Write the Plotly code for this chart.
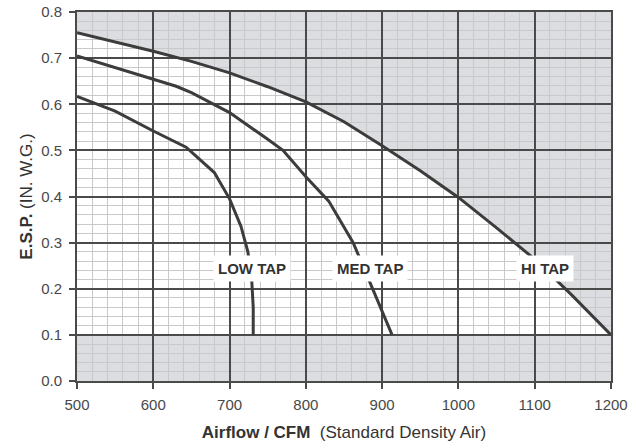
import plotly.graph_objects as go

# fan curves (CFM, in. w.g.)
hi_cfm = [500, 550, 600, 650, 665, 700, 750, 800, 850, 900, 950, 1000, 1050, 1100, 1150, 1200]
hi_esp = [0.755, 0.735, 0.715, 0.693, 0.686, 0.668, 0.638, 0.605, 0.562, 0.51, 0.456, 0.398, 0.332, 0.264, 0.184, 0.10]

med_cfm = [500, 550, 600, 630, 650, 700, 750, 770, 800, 830, 862, 885, 900, 913]
med_esp = [0.705, 0.68, 0.654, 0.639, 0.625, 0.582, 0.524, 0.50, 0.443, 0.39, 0.30, 0.21, 0.155, 0.10]

low_cfm = [500, 550, 600, 643, 680, 700, 715, 724, 729, 731, 731]
low_esp = [0.617, 0.585, 0.542, 0.507, 0.452, 0.395, 0.335, 0.28, 0.22, 0.16, 0.10]

tap_labels = ["LOW TAP", "MED TAP", "HI TAP"]
label_cfm = [729, 884, 1114]
label_esp = [0.243, 0.243, 0.243]

x_range = [500, 1200]
y_range = [0.0, 0.8]
min_esp = 0.1

GREY = '#dcdde0'
LINE = '#3c3c3c'
GRID = '#4a4a4a'
MINOR = '#c9c9cb'
FONT = "Liberation Sans, Arial, sans-serif"

fig = go.Figure()

for xs, ys in [(low_cfm, low_esp), (med_cfm, med_esp), (hi_cfm, hi_esp)]:
    fig.add_trace(go.Scatter(x=xs, y=ys, mode='lines', line=dict(color=LINE, width=3),
                             showlegend=False, hoverinfo='skip'))

# grey shading outside the operating range (above HI TAP and below 0.1)
path = f"M {x_range[0]},{y_range[1]} " + " ".join(f"L {x},{y}" for x, y in zip(hi_cfm, hi_esp))
path += f" L {x_range[1]},{y_range[1]} Z"
fig.add_shape(type='path', path=path, xref='x', yref='y', fillcolor=GREY, line_width=0, layer='below')
fig.add_shape(type='rect', x0=x_range[0], x1=x_range[1], y0=y_range[0], y1=min_esp,
              xref='x', yref='y', fillcolor=GREY, line_width=0, layer='below')

for txt, x, y in zip(tap_labels, label_cfm, label_esp):
    fig.add_annotation(x=x, y=y, text=f"<b>{txt}</b>", showarrow=False, bgcolor='white',
                       borderpad=4, font=dict(size=15, color='#333333', family=FONT))

axis_common = dict(
    automargin=False, ticklabeloverflow='allow',
    showline=True, mirror=True, linecolor=GRID, linewidth=2,
    showgrid=True, gridcolor=GRID, gridwidth=1.5, zeroline=False,
    ticks='outside', ticklen=6, tickcolor=GRID, tickwidth=1.5,
    tickfont=dict(size=15, color='#484848', family=FONT),
)

fig.update_layout(
    width=636, height=448,
    margin=dict(l=77, r=25, t=12, b=67),
    plot_bgcolor='white', paper_bgcolor='white',
    font=dict(family=FONT, color='#333333'),
    xaxis=dict(range=x_range, dtick=100, tick0=500, ticklabelstandoff=3,
               minor=dict(dtick=20, tick0=500, showgrid=True, gridcolor=MINOR, gridwidth=1),
               title=dict(text="<b>Airflow / CFM</b>  (Standard Density Air)",
                          font=dict(size=17, color='#333333', family=FONT), standoff=14),
               **axis_common),
    yaxis=dict(range=y_range, dtick=0.1, tick0=0, tickformat='.1f', ticklabelstandoff=4,
               minor=dict(dtick=0.02, tick0=0, showgrid=True, gridcolor=MINOR, gridwidth=1),
               title=dict(text="<b>E.S.P.</b> (IN. W.G.)",
                          font=dict(size=17, color='#333333', family=FONT), standoff=4),
               **axis_common),
)

# drop the browser's default 8px body margin so the figure sits at the page origin
fig.write_html("out.html", config={'displayModeBar': False},
               post_script="document.body.style.margin = '0';")
